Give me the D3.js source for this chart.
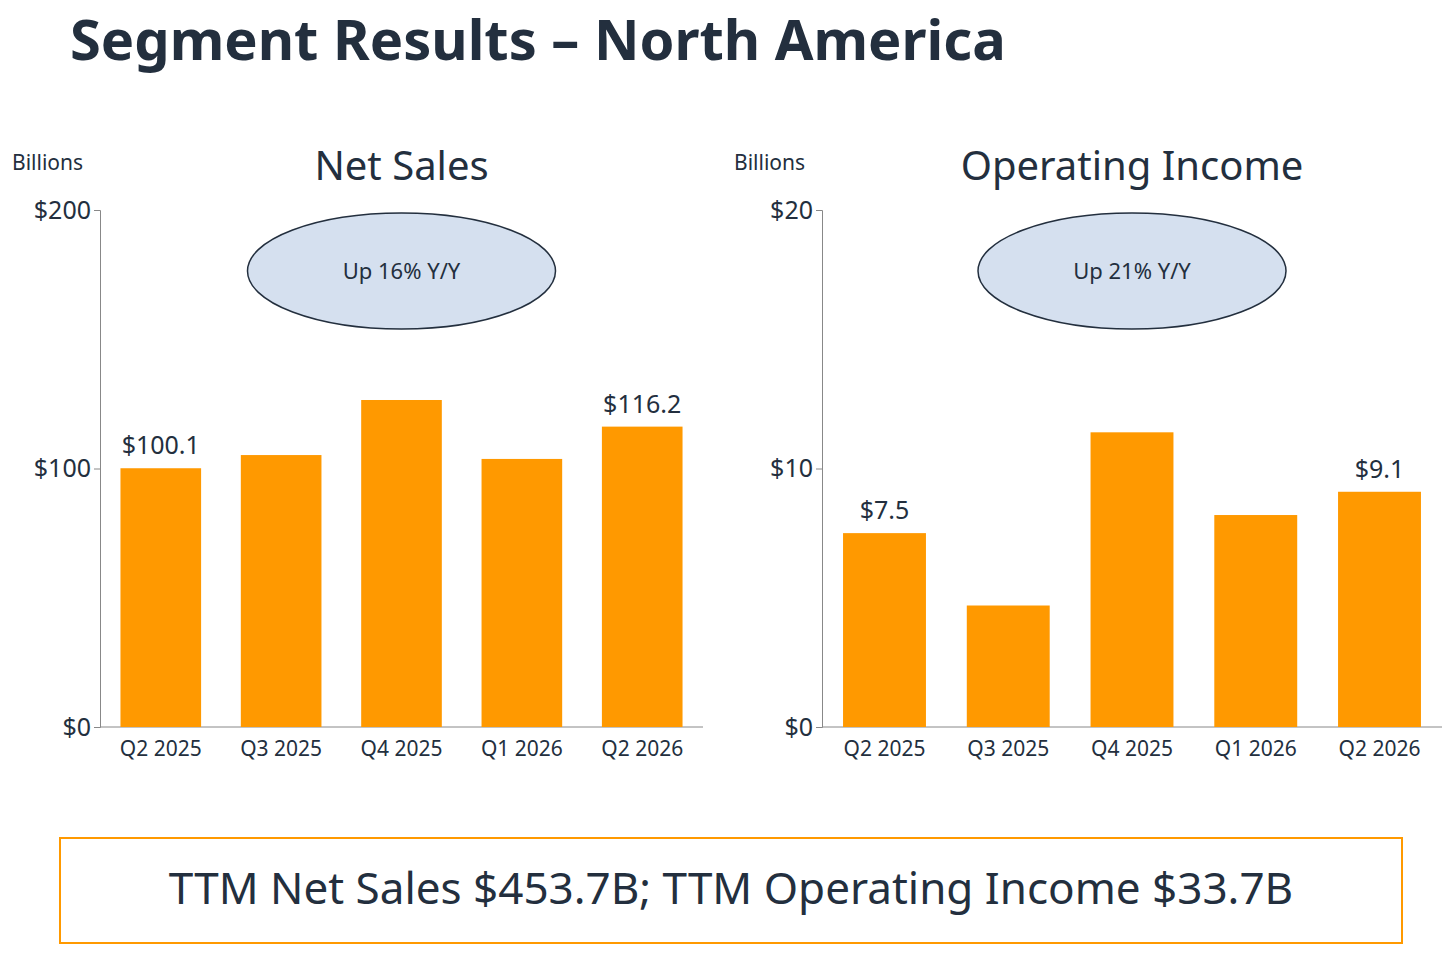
<!DOCTYPE html>
<html><head><meta charset="utf-8">
<script src="https://cdn.jsdelivr.net/npm/d3@7"></script>
<style>body{margin:0;background:#fff}svg{font-family:"Noto Sans",sans-serif}</style>
</head><body><svg id="c" width="1456" height="960"></svg>
<script>
const quarters = ["Q2 2025", "Q3 2025", "Q4 2025", "Q1 2026", "Q2 2026"];
const netSales = [100.1, 105.2, 126.5, 103.7, 116.2];
const opIncome = [7.5, 4.7, 11.4, 8.2, 9.1];
const salesTicks = [0, 100, 200];
const incomeTicks = [0, 10, 20];

const ink = "#232f3e", orange = "#ff9900";
const svg = d3.select("#c");

svg.append("text").attr("x", 70).attr("y", 60).attr("fill", ink)
  .attr("font-size", 56).attr("font-weight", 700).text("Segment Results – North America");

function panel(o) {
  const y = d3.scaleLinear().domain([0, o.max]).range([727, 210]);
  const x = d3.scaleBand().domain(quarters).range([o.x0, o.x1]).paddingInner(0.33).paddingOuter(0.17);
  const g = svg.append("g");
  g.append("text").attr("x", o.x0 - 88).attr("y", 170).attr("font-size", 21).attr("fill", ink).text("Billions");
  g.append("text").attr("x", (o.x0 + o.x1) / 2).attr("y", 180).attr("text-anchor", "middle")
    .attr("font-size", 40).attr("fill", ink).text(o.title);
  const ya = g.append("g").attr("transform", `translate(${o.x0},0)`)
    .call(d3.axisLeft(y).tickValues(o.ticks).tickSize(6).tickFormat(d => "$" + d));
  ya.select(".domain").attr("stroke", "#888");
  ya.selectAll(".tick line").attr("stroke", "#888");
  ya.selectAll("text").attr("font-size", 25).attr("fill", ink).attr("font-family", "Noto Sans");
  const xa = g.append("g").attr("transform", "translate(0,727)")
    .call(d3.axisBottom(x).tickSize(0).tickPadding(14));
  xa.select(".domain").attr("stroke", "#888").attr("d", `M${o.x0},0H${o.x1}`);
  xa.selectAll("text").attr("font-size", 21).attr("fill", ink).attr("font-family", "Noto Sans");
  g.selectAll("rect").data(o.vals).enter().append("rect")
    .attr("x", (d, i) => x(quarters[i])).attr("width", x.bandwidth())
    .attr("y", d => y(d)).attr("height", d => 727 - y(d)).attr("fill", orange);
  [0, 4].forEach(i => g.append("text").attr("x", x(quarters[i]) + x.bandwidth() / 2)
    .attr("y", y(o.vals[i]) - 14).attr("text-anchor", "middle").attr("font-size", 25).attr("fill", ink)
    .text("$" + o.vals[i].toFixed(1)));
  const cx = (o.x0 + o.x1) / 2;
  g.append("ellipse").attr("cx", cx).attr("cy", 271).attr("rx", 154).attr("ry", 58)
    .attr("fill", "#d5e0ef").attr("stroke", ink).attr("stroke-width", 1.5);
  g.append("text").attr("x", cx).attr("y", 279).attr("text-anchor", "middle")
    .attr("font-size", 22).attr("fill", ink).text(o.badge);
}

panel({x0: 100, x1: 703, max: 200, ticks: salesTicks, vals: netSales, title: "Net Sales", badge: "Up 16% Y/Y"});
panel({x0: 822, x1: 1442, max: 20, ticks: incomeTicks, vals: opIncome, title: "Operating Income", badge: "Up 21% Y/Y"});

svg.append("rect").attr("x", 60).attr("y", 838).attr("width", 1342).attr("height", 105)
  .attr("fill", "none").attr("stroke", orange).attr("stroke-width", 2);
svg.append("text").attr("x", 731).attr("y", 904).attr("text-anchor", "middle")
  .attr("font-size", 44).attr("fill", ink).text("TTM Net Sales $453.7B; TTM Operating Income $33.7B");
</script></body></html>
